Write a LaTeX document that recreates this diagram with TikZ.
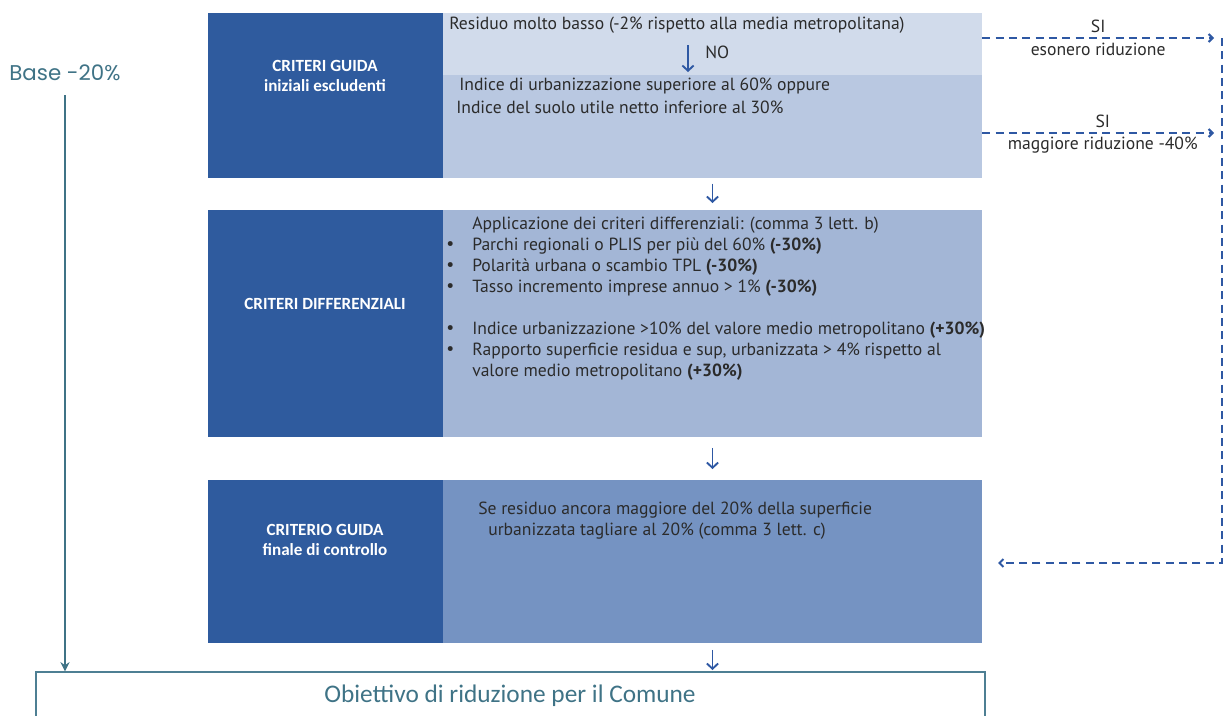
\documentclass[tikz,border=0pt]{standalone}
\usepackage{fontspec}
\setmainfont{PT Sans}
\newfontfamily\headfont{Carlito}
\newfontfamily\basefont{Poppins}
\usetikzlibrary{positioning,arrows.meta,fit}
\definecolor{guideblue}{HTML}{2F5B9E}
\definecolor{paleblue}{HTML}{D1DBEB}
\definecolor{lightblue}{HTML}{B9C8E1}
\definecolor{midblue}{HTML}{A3B6D6}
\definecolor{deepblue}{HTML}{7593C2}
\definecolor{arrowblue}{HTML}{2E58A3}
\definecolor{textgray}{HTML}{2B2B2B}
\definecolor{tealline}{HTML}{4E7F93}
\definecolor{baseteal}{HTML}{3F7386}
\tikzset{
  leftbox/.style={fill=guideblue,inner sep=0pt},
  rbox/.style={inner sep=0pt},
  head/.style={text=white,align=center,font=\headfont\bfseries\fontsize{12.8}{15.5}\selectfont},
  body/.style={anchor=west,inner sep=0pt,text=textgray,font=\fontsize{13.2}{15.75}\selectfont},
  bodylist/.style={anchor=north west,inner sep=0pt,text=textgray,align=left,
                   font=\fontsize{13.2}{15.75}\selectfont},
  silabel/.style={inner sep=0pt,text=textgray,font=\fontsize{13.2}{14}\selectfont},
  stepdown/.style={-{Straight Barb[length=4pt,width=8.5pt,line width=1.4pt]},line width=1.2pt,arrowblue},
  yesline/.style={-{Straight Barb[length=3pt,width=6pt,line width=1.5pt]},line width=1.3pt,
                  arrowblue,dash pattern=on 6pt off 4pt},
  baseline arrow/.style={-{Stealth[length=7pt,width=7pt]},line width=0.9pt,baseteal},
  goalbox/.style={draw=tealline,line width=0.9pt,inner sep=0pt},
}
\begin{document}
\begin{tikzpicture}[x=0.75pt,y=-0.75pt]
  \clip (0,0) rectangle (1225,715);
  % left column
  \node[leftbox,fit={(208,13) (443,178)}] (guideA) {};
  \node[leftbox,fit={(208,210) (443,437)}] (diff) {};
  \node[leftbox,fit={(208,480) (443,643)}] (guideB) {};
  \node[head] (guideAlabel) at (325,76) {CRITERI GUIDA\\iniziali escludenti};
  \node[head] (difflabel) at (325,304) {CRITERI DIFFERENZIALI};
  \node[head] (guideBlabel) at (325,540) {CRITERIO GUIDA\\finale di controllo};
  % right column
  \node[rbox,fill=paleblue,fit={(443,13) (982,75)}] (residuo) {};
  \node[rbox,fill=lightblue,fit={(443,75) (982,178)}] (indice) {};
  \node[rbox,fill=midblue,fit={(443,210) (982,437)}] (criteri) {};
  \node[rbox,fill=deepblue,fit={(443,480) (982,643)}] (controllo) {};
  \node[body] (residuotext) at (449,25) {Residuo molto basso (-2\% rispetto alla media metropolitana)};
  \node[body] (notext) at (705,52) {NO};
  \node[body] (indiceA) at (459,86) {Indice di urbanizzazione superiore al 60\% oppure};
  \node[body] (indiceB) at (456,107) {Indice del suolo utile netto inferiore al 30\%};
  \node[bodylist] (criteritext) at (472,217) {Applicazione dei criteri differenziali: (comma 3 lett. b)\\
    Parchi regionali o PLIS per più del 60\% \textbf{(-30\%)}\\
    Polarità urbana o scambio TPL \textbf{(-30\%)}\\
    Tasso incremento imprese annuo > 1\% \textbf{(-30\%)}\\[15.75pt]
    Indice urbanizzazione >10\% del valore medio metropolitano \textbf{(+30\%)}\\
    Rapporto superficie residua e sup, urbanizzata > 4\% rispetto al\\
    valore medio metropolitano \textbf{(+30\%)}};
  \foreach \y/\nm in {246/a,267/b,288/c,330/d,351/e}
    \node[body] (dot\nm) at (446,\y) {\textbullet};
  \node[body] (controlloA) at (478,510) {Se residuo ancora maggiore del 20\% della superficie};
  \node[body] (controlloB) at (488,531) {urbanizzata tagliare al 20\% (comma 3 lett. c)};
  % goal
  \node[goalbox,fit={(36,672) (985,740)}] (obiettivo) {};
  \node[text=baseteal,font=\headfont\fontsize{19}{22}\selectfont] (goaltext) at (510,696)
    {Obiettivo di riduzione per il Comune};
  \node[text=baseteal,font=\basefont\fontsize{16}{19}\selectfont] (base) at (65,73) {Base -20\%};
  \draw[baseline arrow,shorten <=7pt] (base.south) -- (base.south |- obiettivo.north);
  % flow arrows
  \coordinate (noTop) at (688,45);
  \draw[stepdown,shorten >=2pt] (noTop) -- (noTop |- indice.north);
  \draw[stepdown,shorten <=4pt,shorten >=5pt] (indice.south) -- (criteri.north);
  \draw[stepdown,shorten <=8pt,shorten >=8pt] (criteri.south) -- (controllo.north);
  \draw[stepdown,shorten <=5pt,shorten >=1pt] (controllo.south) -- (controllo.south |- obiettivo.north);
  % yes branches
  \coordinate (siAend) at (1214,38);
  \coordinate (siBend) at (1214,133);
  \draw[yesline] (residuo.east |- siAend) -- (siAend)
    node[silabel,pos=0.5,above=3pt] (siA) {SI}
    node[silabel,pos=0.5,below=3pt] (esonero) {esonero riduzione};
  \draw[yesline] (indice.east |- siBend) -- (siBend)
    node[silabel,pos=0.52,above=3pt] (siB) {SI}
    node[silabel,pos=0.52,below=2pt] (maggiore) {maggiore riduzione -40\%};
  \coordinate (backTop) at (1222,38);
  \coordinate (backCorner) at (1222,563);
  \coordinate (backEnd) at (998,563);
  \draw[yesline] (backTop) -- (backCorner) -- (backEnd);
\end{tikzpicture}
\end{document}
